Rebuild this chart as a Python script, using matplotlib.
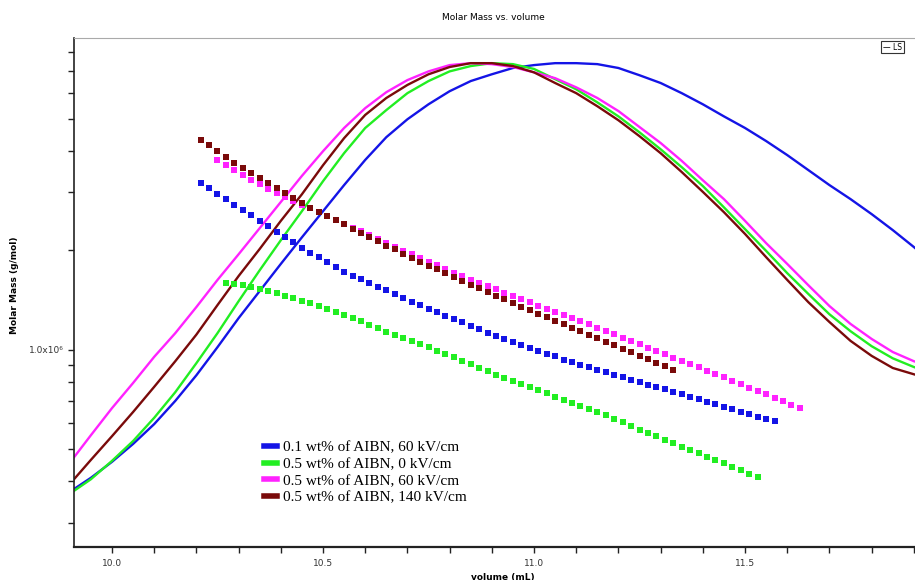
import matplotlib
matplotlib.use("Agg")
import matplotlib.pyplot as plt
from matplotlib.lines import Line2D
from matplotlib.ticker import FixedLocator, NullFormatter, FixedFormatter

# --- slice volumes (mL) of the molar mass points ---
vol_slices = [10.21, 10.23, 10.25, 10.27, 10.29, 10.31, 10.33, 10.35, 10.37, 10.39,
              10.41, 10.43, 10.45, 10.47, 10.49, 10.51, 10.53, 10.55, 10.57, 10.59,
              10.61, 10.63, 10.65, 10.67, 10.69, 10.71, 10.73, 10.75, 10.77, 10.79,
              10.81, 10.83, 10.85, 10.87, 10.89, 10.91, 10.93, 10.95, 10.97, 10.99,
              11.01, 11.03, 11.05, 11.07, 11.09, 11.11, 11.13, 11.15, 11.17, 11.19,
              11.21, 11.23, 11.25, 11.27, 11.29, 11.31, 11.33, 11.35, 11.37, 11.39,
              11.41, 11.43, 11.45, 11.47, 11.49, 11.51, 11.53, 11.55, 11.57, 11.59,
              11.61, 11.63]

# molar mass (x10^6 g/mol); first slice index for each series
mm_blue_start = 0
mm_blue = [3.206, 3.090, 2.972, 2.864, 2.754, 2.655, 2.559, 2.460, 2.371, 2.280,
           2.198, 2.118, 2.042, 1.972, 1.905, 1.841, 1.778, 1.726, 1.679, 1.637,
           1.596, 1.552, 1.514, 1.476, 1.435, 1.400, 1.368, 1.334, 1.303, 1.271,
           1.242, 1.213, 1.183, 1.156, 1.127, 1.102, 1.079, 1.057, 1.035, 1.014,
           0.993, 0.973, 0.955, 0.935, 0.918, 0.902, 0.885, 0.869, 0.855, 0.841,
           0.826, 0.813, 0.800, 0.785, 0.773, 0.759, 0.746, 0.733, 0.721, 0.710,
           0.697, 0.685, 0.673, 0.662, 0.650, 0.640, 0.628, 0.618, 0.607]

mm_green_start = 3
mm_green = [1.589, 1.581, 1.570, 1.552, 1.528, 1.507, 1.486, 1.459, 1.435, 1.409,
            1.384, 1.355, 1.327, 1.300, 1.274, 1.247, 1.219, 1.191, 1.161, 1.135,
            1.112, 1.086, 1.064, 1.042, 1.019, 0.995, 0.973, 0.951, 0.927, 0.904,
            0.881, 0.861, 0.841, 0.822, 0.807, 0.791, 0.773, 0.755, 0.738, 0.721,
            0.706, 0.692, 0.678, 0.664, 0.649, 0.634, 0.618, 0.604, 0.589, 0.574,
            0.560, 0.547, 0.535, 0.521, 0.509, 0.498, 0.486, 0.475, 0.465, 0.453,
            0.442, 0.432, 0.421, 0.411]

mm_magenta_start = 2
mm_magenta = [3.767, 3.639, 3.508, 3.381, 3.273, 3.170, 3.076, 2.985, 2.904, 2.825,
              2.754, 2.685, 2.612, 2.541, 2.477, 2.410, 2.344, 2.286, 2.223, 2.163,
              2.109, 2.051, 1.995, 1.945, 1.892, 1.845, 1.803, 1.758, 1.714, 1.671,
              1.633, 1.596, 1.560, 1.524, 1.489, 1.455, 1.422, 1.393, 1.361, 1.334,
              1.303, 1.276, 1.247, 1.222, 1.194, 1.167, 1.140, 1.114, 1.089, 1.064,
              1.040, 1.016, 0.993, 0.971, 0.948, 0.927, 0.906, 0.885, 0.865, 0.845,
              0.826, 0.807, 0.789, 0.769, 0.752, 0.735, 0.716, 0.700, 0.682, 0.667]

mm_brown_start = 0
mm_brown = [4.325, 4.159, 3.999, 3.837, 3.690, 3.556, 3.428, 3.311, 3.199, 3.090,
            2.985, 2.884, 2.786, 2.698, 2.618, 2.541, 2.472, 2.399, 2.328, 2.259,
            2.193, 2.133, 2.070, 2.014, 1.954, 1.901, 1.849, 1.799, 1.754, 1.706,
            1.660, 1.614, 1.574, 1.535, 1.496, 1.459, 1.422, 1.387, 1.352, 1.318,
            1.288, 1.256, 1.225, 1.197, 1.167, 1.138, 1.112, 1.084, 1.057, 1.033,
            1.007, 0.984, 0.959, 0.938, 0.914, 0.893, 0.871]

# --- LS detector trace (relative %, peak = 100) ---
vol_ls = [9.90, 9.95, 10.00, 10.05, 10.10, 10.15, 10.20, 10.25, 10.30, 10.35,
          10.40, 10.45, 10.50, 10.55, 10.60, 10.65, 10.70, 10.75, 10.80, 10.85,
          10.90, 10.95, 11.00, 11.05, 11.10, 11.15, 11.20, 11.25, 11.30, 11.35,
          11.40, 11.45, 11.50, 11.55, 11.60, 11.65, 11.70, 11.75, 11.80, 11.85,
          11.90, 11.95]
ls_blue = [11.4, 14.3, 17.6, 21.3, 25.4, 30.2, 35.5, 41.3, 47.3, 52.9,
           58.5, 64.0, 69.4, 74.8, 80.0, 84.7, 88.4, 91.5, 94.2, 96.3,
           97.7, 99.0, 99.6, 100.0, 100.0, 99.8, 99.0, 97.5, 95.9, 93.8,
           91.5, 89.0, 86.6, 83.9, 81.0, 77.9, 74.8, 71.9, 68.8, 65.5,
           62.0, 58.3]
ls_green = [11.0, 14.0, 17.8, 21.9, 26.7, 32.0, 38.0, 44.2, 50.8, 57.2,
            63.4, 69.4, 75.6, 81.4, 86.6, 90.3, 93.8, 96.3, 98.3, 99.4,
            100.0, 99.8, 98.8, 96.7, 94.6, 91.9, 89.0, 85.7, 82.2, 78.5,
            74.6, 70.2, 65.7, 61.2, 56.6, 52.3, 48.1, 44.6, 41.5, 39.0,
            37.2, 35.7]
ls_magenta = [17.4, 23.1, 28.7, 33.9, 39.3, 44.2, 49.6, 55.2, 60.5, 65.9,
              71.3, 76.7, 81.8, 86.6, 90.7, 94.0, 96.5, 98.3, 99.6, 100.0,
              99.8, 99.2, 98.1, 96.9, 95.0, 92.8, 90.1, 86.8, 83.5, 79.8,
              75.8, 71.9, 67.4, 62.8, 58.5, 54.1, 49.8, 46.1, 43.0, 40.3,
              38.4, 37.0]
ls_brown = [13.0, 18.0, 22.9, 27.9, 33.1, 38.4, 43.9, 50.0, 56.0, 61.6,
            67.4, 72.9, 78.9, 84.5, 89.3, 92.8, 95.5, 97.7, 99.2, 100.0,
            100.0, 99.4, 98.1, 95.9, 93.8, 91.1, 88.2, 84.9, 81.4, 77.5,
            73.4, 69.2, 64.7, 59.9, 55.2, 50.6, 46.5, 42.6, 39.5, 37.0,
            35.7, 34.5]

labels = ["0.1 wt% of AIBN, 60 kV/cm", "0.5 wt% of AIBN, 0 kV/cm",
          "0.5 wt% of AIBN, 60 kV/cm", "0.5 wt% of AIBN, 140 kV/cm"]
colors = ["#1414e6", "#22ee22", "#ff22ff", "#7a0a0a"]

mm_series = [(mm_blue_start, mm_blue), (mm_green_start, mm_green),
             (mm_magenta_start, mm_magenta), (mm_brown_start, mm_brown)]
ls_series = [ls_blue, ls_green, ls_magenta, ls_brown]

fig = plt.figure(figsize=(9.15, 5.8), dpi=100)
rect = [74 / 915, 33 / 580, 858 / 915, 509 / 580]

# LS trace sits on its own hidden axis behind the molar mass axis
ax_ls = fig.add_axes(rect)
for ls, c in zip(ls_series, colors):
    ax_ls.plot(vol_ls, ls, color=c, lw=1.7)
ax_ls.set_xlim(9.91, 11.943)
ax_ls.set_ylim(0, 105.2)
ax_ls.axis("off")

ax = fig.add_axes(rect)
ax.patch.set_alpha(0)
for (i0, mm), c in zip(mm_series, colors):
    v = vol_slices[i0:i0 + len(mm)]
    ax.plot(v, [m * 1e6 for m in mm], ls="none", marker="s", ms=3.8,
            mfc=c, mec=c, mew=0)

ax.set_yscale("log")
ax.set_xlim(9.91, 11.943)
ax.set_ylim(2.53e5, 8.8e6)

ax.xaxis.set_major_locator(FixedLocator([10.0, 10.5, 11.0, 11.5]))
ax.xaxis.set_major_formatter(FixedFormatter(["10.0", "10.5", "11.0", "11.5"]))
ax.xaxis.set_minor_locator(FixedLocator([10.1, 10.2, 10.3, 10.4, 10.6, 10.7, 10.8, 10.9,
                                         11.1, 11.2, 11.3, 11.4, 11.6, 11.7, 11.8, 11.9]))
ax.yaxis.set_major_locator(FixedLocator([1e6]))
ax.yaxis.set_major_formatter(FixedFormatter(["1.0x10\u2076"]))
ax.yaxis.set_minor_locator(FixedLocator([3e5, 4e5, 5e5, 6e5, 7e5, 8e5, 9e5,
                                         2e6, 3e6, 4e6, 5e6, 6e6, 7e6, 8e6]))
ax.yaxis.set_minor_formatter(NullFormatter())

ax.tick_params(axis="both", which="both", direction="out", length=4, width=1,
               color="#222222", labelsize=6.5, labelcolor="#333333")
ax.tick_params(axis="x", which="major", pad=5)

ax.spines["right"].set_visible(False)
ax.spines["top"].set_color("#aaaaaa")
ax.spines["top"].set_linewidth(0.8)
ax.spines["left"].set_linewidth(1.2)
ax.spines["bottom"].set_linewidth(1.6)
ax.spines["left"].set_color("#222222")
ax.spines["bottom"].set_color("#222222")

ax.set_xlabel("volume (mL)", fontsize=6.5, fontweight="bold", labelpad=3)
fig.text(15 / 915, 1 - 285 / 580, "Molar Mass (g/mol)", rotation=90,
         fontsize=6.5, fontweight="bold", ha="center", va="center")
fig.text(493 / 915, 1 - 17 / 580, "Molar Mass vs. volume", fontsize=6.5,
         ha="center", va="center")

# small detector legend box at the top right
fig.text(883 / 915, 1 - 47 / 580, "\u2014 LS", fontsize=5.5, ha="left", va="center",
         bbox=dict(boxstyle="square,pad=0.25", fc="white", ec="#333333", lw=0.8))

handles = [Line2D([0], [0], color=c, lw=4) for c in colors]
ax.legend(handles, labels, loc="upper left", bbox_to_anchor=(256 / 915, 1 - 433 / 580),
          bbox_transform=fig.transFigure, frameon=False, handlelength=0.9,
          handletextpad=0.35, labelspacing=0.2, borderpad=0,
          prop={"family": "Liberation Serif", "size": 11})

fig.savefig("out.png", dpi=100)
